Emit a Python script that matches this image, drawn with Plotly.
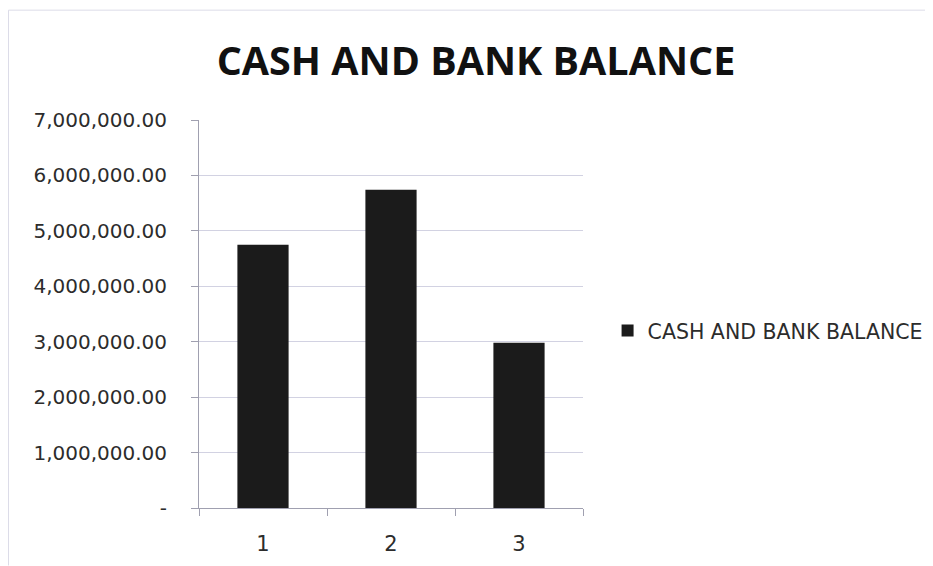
import plotly.graph_objects as go

categories = ["1", "2", "3"]
values = [4750000, 5740000, 2980000]
series_name = "CASH AND BANK BALANCE"
title_text = "CASH AND BANK BALANCE"
y_ticks = [0, 1000000, 2000000, 3000000, 4000000, 5000000, 6000000, 7000000]
y_ticktext = ["-" if v == 0 else f"{v:,.2f}" for v in y_ticks]

FONT = "DejaVu Sans"
TFONT = "Open Sans"
TXT = "#2c2c2c"
GRID = "#d2d2e2"
AXIS = "#a0a0b0"

# page body has an 8px margin; figure is sized so it fills the window exactly
W, H = 925, 558
PL, PR, PT, PB = 191, 350, 112, 57.5
PW, PH = W - PL - PR, H - PT - PB

fig = go.Figure()
fig.add_trace(go.Bar(
    x=categories, y=values, name=series_name,
    marker=dict(color="#1b1b1b", line=dict(width=0)),
    showlegend=True,
))

fig.update_layout(
    width=W, height=H,
    paper_bgcolor="white", plot_bgcolor="white",
    margin=dict(l=PL, r=PR, t=PT, b=PB, autoexpand=False),
    bargap=0.6,
    title=dict(text=f"<b>{title_text}</b>", x=468 / W, xref="container", xanchor="center",
               y=1 - 53 / H, yref="container", yanchor="middle",
               font=dict(family=TFONT, size=39.5, color="#111111")),
    font=dict(family=FONT, color=TXT),
    legend=dict(x=1.064, xanchor="left", y=0.457, yanchor="middle",
                font=dict(family=FONT, size=20.5, color=TXT),
                itemsizing="constant", bgcolor="rgba(0,0,0,0)"),
    xaxis=dict(type="category", tickson="boundaries", ticks="outside", ticklen=7,
               tickcolor=AXIS, showline=True, linecolor=AXIS, linewidth=1,
               showgrid=False, tickfont=dict(family=FONT, size=21, color=TXT),
               ticklabelstandoff=17),
    yaxis=dict(range=[0, 7000000], tickvals=y_ticks, ticktext=y_ticktext,
               ticks="outside", ticklen=7, tickcolor=AXIS,
               showline=True, linecolor=AXIS, linewidth=1,
               showgrid=True, gridcolor=GRID, gridwidth=1, zeroline=False,
               tickfont=dict(family=FONT, size=20, color=TXT),
               ticklabelstandoff=20),
)

# faint chart-area border (top and left) as in the scanned original
top_y = (PH + PT - 2) / PH
left_x = (0.5 - PL) / PW
fig.add_shape(type="line", xref="paper", yref="paper",
              x0=left_x, x1=(W - PL) / PW, y0=top_y, y1=top_y,
              line=dict(color="#dcdce8", width=1))
fig.add_shape(type="line", xref="paper", yref="paper",
              x0=left_x, x1=left_x, y0=top_y, y1=-PB / PH,
              line=dict(color="#dcdce8", width=1))

fig.write_html("out.html")
